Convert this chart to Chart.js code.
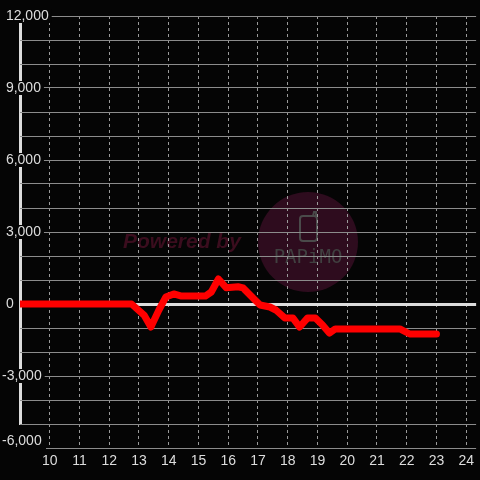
<!DOCTYPE html>
<html>
<head>
<meta charset="utf-8">
<script src="https://cdn.jsdelivr.net/npm/chart.js@4.4.0/dist/chart.umd.min.js"></script>
<style>
  html, body { margin: 0; padding: 0; background: #050505; }
  canvas { display: block; }
</style>
</head>
<body>
<canvas id="c" width="480" height="480"></canvas>
<script>
// ---- data ----
const hours  = [9, 12.75, 13.17, 13.4, 13.67, 13.9, 14.17, 14.43, 15.23, 15.43, 15.67, 15.93, 16.33, 16.5, 16.9, 17.07, 17.4, 17.6, 17.9, 18.17, 18.4, 18.67, 18.93, 19.17, 19.4, 19.6, 21.77, 22.1, 23.0];
const profit = [0, 0, -460, -960, -250, 290, 420, 330, 330, 500, 1040, 680, 720, 670, 170, -40, -125, -250, -580, -580, -960, -580, -580, -875, -1210, -1040, -1040, -1250, -1250];
const yMin = -6000, yMax = 12000, yGridStep = 1000, yLabelStep = 3000;
const xMin = 9, xMax = 24.333, xTicksHidden = [9];

const points = hours.map((h, i) => ({ x: h, y: profit[i] }));
const fmt = v => (v < 0 ? '' : ' ') + v.toLocaleString('en-US');

const LABEL_FONT = { family: 'Liberation Sans', size: 14, lineHeight: 1 };
const AXIS_X = 20, LABEL_X = 2;
const yPad = (LABEL_X - AXIS_X) / 3;   // mirrored labels: x = axisLeft + 3*padding
const AXIS_GAP_BOTTOM = 23;            // axis line stops above the lowest label

const watermark = {
  id: 'watermark',
  beforeDraw(chart) {
    const ctx = chart.ctx;
    ctx.save();
    ctx.fillStyle = '#050505';
    ctx.fillRect(0, 0, chart.width, chart.height);
    ctx.fillStyle = '#2e0c1e';
    ctx.beginPath();
    ctx.arc(308, 242, 50, 0, Math.PI * 2);
    ctx.fill();
    ctx.strokeStyle = '#4a4a4a';
    ctx.lineWidth = 2;
    ctx.beginPath();
    if (ctx.roundRect) ctx.roundRect(300, 216, 17, 25, 3); else ctx.rect(300, 216, 17, 25);
    ctx.stroke();
    ctx.beginPath();
    ctx.moveTo(313, 216); ctx.lineTo(314, 212); ctx.lineTo(316, 212); ctx.lineTo(316, 217);
    ctx.stroke();
    ctx.fillStyle = '#404040';
    ctx.font = '19px "DejaVu Sans Mono"';
    ctx.textAlign = 'center';
    ctx.textBaseline = 'middle';
    ctx.fillText('PAPiMO', 308, 258);
    ctx.fillStyle = '#3b0d1e';
    ctx.font = 'italic bold 21px "Liberation Sans"';
    ctx.textAlign = 'left';
    ctx.textBaseline = 'alphabetic';
    ctx.fillText('Powered by', 123, 248);
    ctx.restore();
  }
};

const isLabelTick = ctx => ctx.tick && ctx.tick.value % yLabelStep === 0 && ctx.tick.value !== yMin;
const isAxisTick = ctx => ctx.tick && ctx.tick.value === xMin;

new Chart(document.getElementById('c'), {
  type: 'line',
  data: {
    datasets: [{
      data: points,
      borderColor: '#ff0000',
      borderWidth: 7,
      pointRadius: 0,
      tension: 0,
      borderJoinStyle: 'round',
      borderCapStyle: 'round',
      fill: false
    }]
  },
  options: {
    responsive: false,
    animation: false,
    devicePixelRatio: 1,
    layout: { padding: { left: AXIS_X, top: 16, right: 0, bottom: 6 } },
    plugins: { legend: { display: false }, tooltip: { enabled: false } },
    scales: {
      x: {
        type: 'linear',
        min: xMin,
        max: xMax,
        ticks: {
          stepSize: 1,
          maxTicksLimit: 100,
          includeBounds: false,
          autoSkip: false,
          maxRotation: 0,
          color: '#dddddd',
          padding: 6,
          font: LABEL_FONT,
          showLabelBackdrop: isAxisTick,
          backdropColor: '#050505',
          backdropPadding: { left: 20, right: 26, top: 8, bottom: 0 },
          callback: v => xTicksHidden.includes(v) ? '' : String(v)
        },
        grid: {
          color: ctx => isAxisTick(ctx) ? 'rgba(0,0,0,0)' : '#9a9a9a',
          lineWidth: 1,
          drawTicks: false
        },
        border: { display: false, dash: [3, 3] }
      },
      xAxisLine: {
        type: 'linear',
        position: 'bottom',
        min: xMin,
        max: xMax,
        ticks: { display: false, stepSize: 1, maxTicksLimit: 100, includeBounds: false },
        grid: {
          color: ctx => isAxisTick(ctx) ? '#dddddd' : 'rgba(0,0,0,0)',
          lineWidth: ctx => isAxisTick(ctx) ? 3 : 0,
          drawTicks: false
        },
        border: {
          display: false,
          dash: ctx => {
            const a = ctx.chart.chartArea;
            return a ? [a.bottom - a.top - AXIS_GAP_BOTTOM, 1000] : [];
          }
        }
      },
      y: {
        min: yMin,
        max: yMax,
        ticks: {
          stepSize: yGridStep,
          maxTicksLimit: 100,
          autoSkip: false,
          mirror: true,
          padding: yPad,
          color: '#dddddd',
          font: LABEL_FONT,
          showLabelBackdrop: isLabelTick,
          backdropColor: '#050505',
          backdropPadding: { left: 2, right: 3, top: 0, bottom: 0 },
          callback: (v) => {
            if (v % yLabelStep !== 0) return '';
            return v === yMin ? [fmt(v), ''] : fmt(v);
          }
        },
        grid: {
          color: ctx => ctx.tick && ctx.tick.value === 0 ? '#dddddd' : '#8c8c8c',
          lineWidth: ctx => ctx.tick && ctx.tick.value === 0 ? 3 : 1,
          drawTicks: false
        },
        border: { display: false }
      }
    }
  },
  plugins: [watermark]
});
</script>
</body>
</html>
